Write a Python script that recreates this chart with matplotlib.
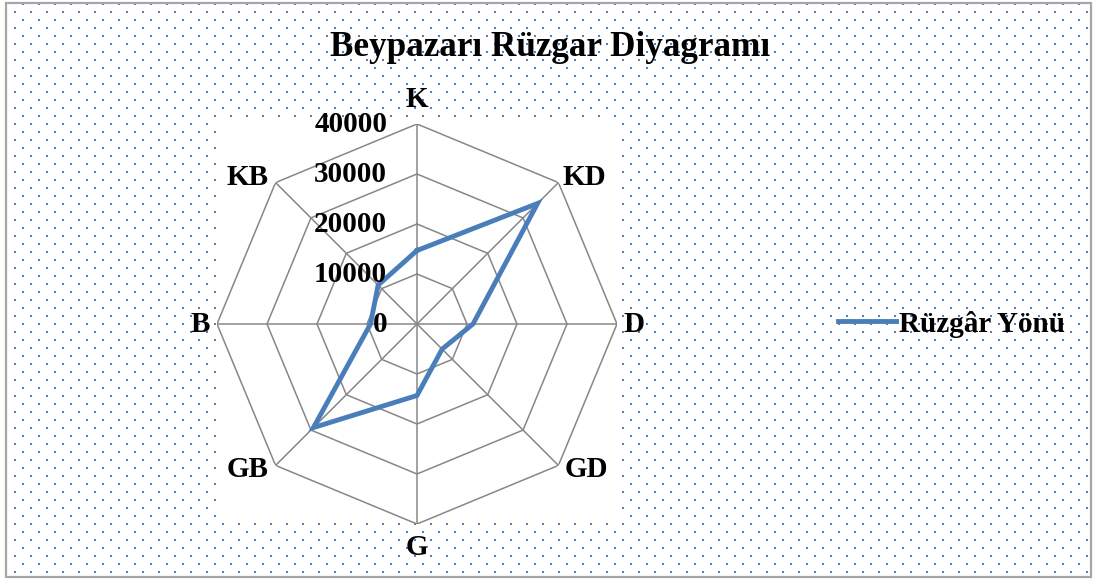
import numpy as np
import matplotlib
matplotlib.use('Agg')
import matplotlib.pyplot as plt
from matplotlib.patches import Rectangle

# Veri
directions = ['K', 'KD', 'D', 'GD', 'G', 'GB', 'B', 'KB']
wind = [14700, 34100, 11200, 7100, 14300, 29300, 9300, 11000]
rings = [0, 10000, 20000, 30000, 40000]
series_name = 'Rüzgâr Yönü'
title = 'Beypazarı Rüzgar Diyagramı'

blue = '#4A7EBB'
grid_col = '#878787'
font = ['Liberation Serif', 'DejaVu Serif']

W, H = 1094, 579
fig = plt.figure(figsize=(W / 100, H / 100), dpi=100)

# cizim alani sinirlari (piksel)
px0, px1, py0, py1 = 217, 622, 123, 520

# arka plan: noktali desen
bg = fig.add_axes([0, 0, 1, 1])
bg.set_xlim(0, W)
bg.set_ylim(H, 0)
bg.axis('off')
for j, yy in enumerate(np.arange(4, H, 8)):
    x0 = 23 if j % 2 == 0 else 15
    xs = np.arange(x0, W - 4, 16)
    if py0 <= yy <= py1:
        xs = xs[(xs < px0) | (xs > px1)]
    bg.plot(xs, [yy] * len(xs), 's', color='#4F81BD', ms=1.5, mew=0, zorder=1)
# dis cerceve
bg.add_patch(Rectangle((6, 3), 1085, 574, facecolor='none', edgecolor='#A6A6A6', lw=1.6, zorder=4))

# radar
cx, cy, R = 417, 324, 200
ax = fig.add_axes([(cx - R) / W, (H - cy - R) / H, 2 * R / W, 2 * R / H], projection='polar')
ax.set_theta_offset(np.pi / 2)
ax.set_theta_direction(-1)
ax.set_ylim(0, rings[-1])
ax.patch.set_alpha(0)
ax.spines['polar'].set_visible(False)
ax.grid(False)
ax.set_xticks([])
ax.set_yticks([])

n = len(directions)
theta = np.arange(n) * 2 * np.pi / n
tc = np.append(theta, theta[0])

for r in rings[1:]:
    ax.plot(tc, [r] * (n + 1), color=grid_col, lw=1.1, zorder=1)
for t in theta:
    ax.plot([t, t], [0, rings[-1]], color=grid_col, lw=1.1, zorder=1)

line, = ax.plot(tc, wind + [wind[0]], color=blue, lw=3.5, solid_joinstyle='miter',
                label=series_name, zorder=3)

for r in rings:
    ax.annotate(str(r), xy=(0, r), xytext=(-21.5, 0), textcoords='offset points',
                ha='right', va='center', fontsize=21, fontweight='bold', family=font,
                zorder=5)

offs = {'K': (0, 18), 'KD': (19, 4), 'D': (12, 0), 'GD': (20, -3),
        'G': (0, -17), 'GB': (-20, -3), 'B': (-12, 0), 'KB': (-20, 4)}
for t, d in zip(theta, directions):
    ax.annotate(d, xy=(t, rings[-1]), xytext=offs[d], textcoords='offset points',
                ha='center', va='center', fontsize=21, fontweight='bold', family=font,
                annotation_clip=False)

fig.text(550 / W, 1 - 47 / H, title, ha='center', va='center', fontsize=25.3,
         fontweight='bold', family=font)

fig.legend(handles=[line], loc='center left', bbox_to_anchor=(838 / W, 1 - 324 / H),
           frameon=False, handlelength=2.0, handletextpad=0.1, borderpad=0,
           borderaxespad=0, prop={'family': font, 'weight': 'bold', 'size': 21})

fig.savefig('out.png', dpi=100)
